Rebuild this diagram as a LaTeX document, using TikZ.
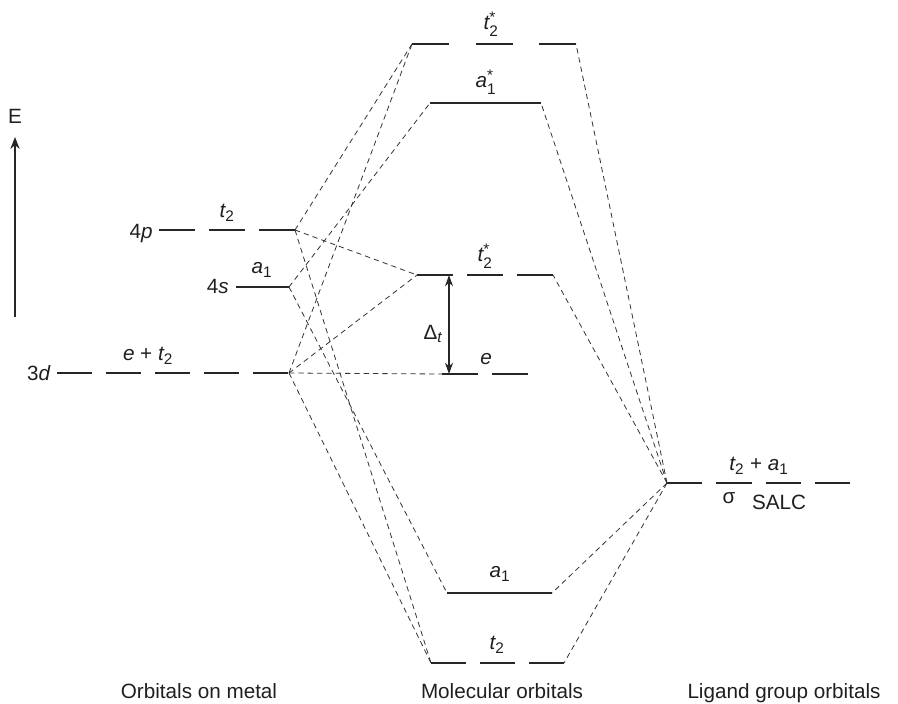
\documentclass[tikz,border=0pt]{standalone}
\usepackage{amsmath}
\usepackage{fontspec}
\setmainfont{Liberation Sans}
\usetikzlibrary{arrows.meta}
\DeclareMathSizes{15.5}{15.5}{11.5}{8.5}

\newcommand{\orb}[2]{$\text{\itshape #1}_{\text{#2}}$}
\newcommand{\orbs}[2]{$\text{\itshape #1}^{\text{*}}_{\text{#2}}$}

\begin{document}
\begin{tikzpicture}[x=0.75pt,y=-0.75pt,
  >={Stealth[length=8.5pt,width=6pt]},
  lvl/.style={line width=1.4pt,draw=black!85},
  cn/.style={draw=black!80,line width=0.6pt,dash pattern=on 4pt off 3pt},
  lb/.style={font=\fontsize{15.5}{18}\selectfont,text=black!88,inner sep=0pt}]
  \useasboundingbox (0,0) rectangle (898,703);

  % metal orbitals
  \coordinate (p4L) at (159,230);  \coordinate (p4R) at (295,230);
  \coordinate (s4L) at (236,287);  \coordinate (s4R) at (289,287);
  \coordinate (d3L) at (57,373);   \coordinate (d3R) at (289,373);
  % molecular orbitals
  \coordinate (t2aL) at (412,44);  \coordinate (t2aR) at (576,44);
  \coordinate (a1aL) at (430,103); \coordinate (a1aR) at (541,103);
  \coordinate (t2mL) at (417,275); \coordinate (t2mR) at (553,275);
  \coordinate (eL) at (442,374);   \coordinate (eR) at (528,374);
  \coordinate (a1bL) at (447,593); \coordinate (a1bR) at (552,593);
  \coordinate (t2bL) at (431,663); \coordinate (t2bR) at (564,663);
  % ligand SALC
  \coordinate (salcL) at (667,483); \coordinate (salcR) at (850,483);

  % levels
  \draw[lvl,dash pattern=on 27pt off 10.5pt] (p4L) -- (p4R);
  \draw[lvl] (s4L) -- (s4R);
  \draw[lvl,dash pattern=on 26.25pt off 10.5pt] (d3L) -- (d3R);
  \draw[lvl,dash pattern=on 27.75pt off 19.9pt] (t2aL) -- (t2aR);
  \draw[lvl] (a1aL) -- (a1aR);
  \draw[lvl,dash pattern=on 27pt off 10.5pt] (t2mL) -- (t2mR);
  \draw[lvl,dash pattern=on 27pt off 10.5pt] (eL) -- (eR);
  \draw[lvl] (a1bL) -- (a1bR);
  \draw[lvl,dash pattern=on 26.25pt off 10.5pt] (t2bL) -- (t2bR);
  \draw[lvl,dash pattern=on 26.6pt off 10.5pt] (salcL) -- (salcR);

  % correlation lines
  \draw[cn] (p4R) -- (t2aL);
  \draw[cn] (p4R) -- (t2mL);
  \draw[cn] (p4R) -- (t2bL);
  \draw[cn] (s4R) -- (a1aL);
  \draw[cn] (s4R) -- (a1bL);
  \draw[cn] (d3R) -- (t2aL);
  \draw[cn] (d3R) -- (t2mL);
  \draw[cn] (d3R) -- (eL);
  \draw[cn] (d3R) -- (t2bL);
  \foreach \m in {t2aR,a1aR,t2mR,a1bR,t2bR}
    \draw[cn] (salcL) -- (\m);

  % energy axis and splitting
  \coordinate (Ebot) at (15,317); \coordinate (Etop) at (15,137);
  \draw[->,line width=1pt,black!85,>={Stealth[length=9pt,width=7pt]}] (Ebot) -- (Etop);
  \node[lb,anchor=base] (Elab) at (15,123) {E};
  \coordinate (dTop) at (449,275); \coordinate (dBot) at (449,374);
  \draw[<->,line width=1pt,black!85] (dBot) -- (dTop);
  \node[lb] (dlab) at (433,334) {$\text{Δ}_{\text{\itshape t}}$};

  % labels
  \node[lb,anchor=base east] (p4lab) at (153,238) {4\textit{p}};
  \node[lb] (p4sym) at (227,213) {\orb{t}{2}};
  \node[lb,anchor=base east] (s4lab) at (229,293) {4\textit{s}};
  \node[lb] (s4sym) at (262,270) {\orb{a}{1}};
  \node[lb,anchor=base east] (d3lab) at (51,380) {3\textit{d}};
  \node[lb] (d3sym) at (148,356) {\textit{e} + \orb{t}{2}};
  \node[lb] (t2asym) at (491,24) {\orbs{t}{2}};
  \node[lb] (a1asym) at (486,82) {\orbs{a}{1}};
  \node[lb] (t2msym) at (485,256) {\orbs{t}{2}};
  \node[lb] (esym) at (486,359) {\textit{e}};
  \node[lb] (a1bsym) at (500,574) {\orb{a}{1}};
  \node[lb] (t2bsym) at (497,645) {\orb{t}{2}};
  \node[lb] (salcsym) at (759,466) {\orb{t}{2} + \orb{a}{1}};
  \node[lb] (sigma) at (729,498) {σ};
  \node[lb] (salc) at (779,502) {SALC};

  % column titles
  \node[lb,anchor=base] (metal) at (199,698) {Orbitals on metal};
  \node[lb,anchor=base] (mos) at (502,698) {Molecular orbitals};
  \node[lb,anchor=base] (lgo) at (784,698) {Ligand group orbitals};
\end{tikzpicture}
\end{document}
